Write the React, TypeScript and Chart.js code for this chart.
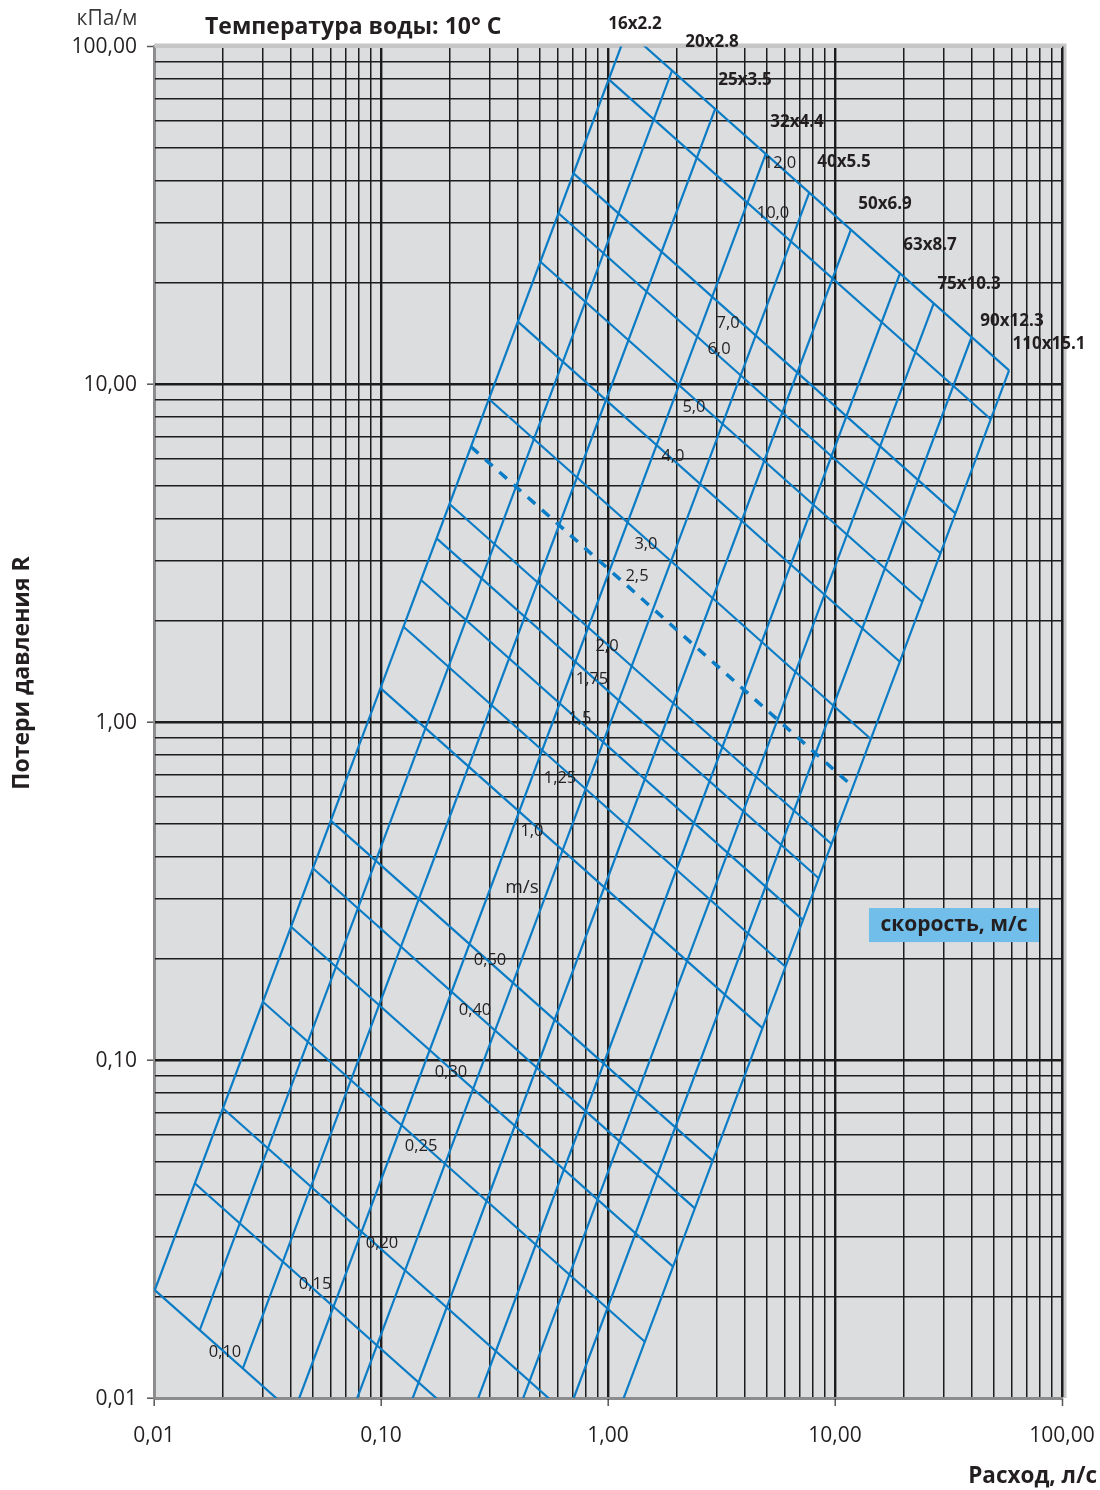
import React, { useEffect, useRef } from 'react';
import { Chart, registerables } from 'chart.js';

Chart.register(...registerables);

// ---- Pipe lines (flow Q, л/с ; pressure loss R, кПа/м) ----
const pipeNames = ['16x2.2', '20x2.8', '25x3.5', '32x4.4', '40x5.5', '50x6.9', '63x8.7', '75x10.3', '90x12.3', '110x15.1'];
const pipeStartQ = [0.01008, 0.0159, 0.02462, 0.04115, 0.06394, 0.09755, 0.1605, 0.226, 0.3319, 0.4853];
const pipeStartR = [0.02086, 0.01589, 0.01224, 0.009, 0.006915, 0.005373, 0.00399, 0.003251, 0.002585, 0.00206];
const pipeEndQ = [1.213, 1.915, 2.966, 4.955, 7.701, 11.75, 19.33, 27.22, 39.96, 58.47];
const pipeEndR = [111.1, 84.62, 65.17, 47.93, 36.83, 28.61, 21.25, 17.31, 13.76, 10.97];
const pipeLabelQ = [1.315, 2.871, 4.013, 6.801, 10.96, 16.61, 26.21, 38.94, 60.21, 87.62];
const pipeLabelR = [116.2, 102.8, 79.32, 59.59, 45.38, 34.08, 25.77, 19.76, 15.36, 13.13];

// ---- Velocity lines (м/с) ----
const velocityNames = ['0,10', '0,15', '0,20', '0,25', '0,30', '0,40', '0,50', '1,0', '1,25', '1,5', '1,75', '2,0', '2,5', '3,0', '4,0', '5,0', '6,0', '7,0', '10,0', '12,0'];
const velocityDashed = ['2,5'];
const velStartQ = [0.01008, 0.01512, 0.02011, 0.03017, 0.04014, 0.05012, 0.06008, 0.09949, 0.1256, 0.1501, 0.1758, 0.2003, 0.2491, 0.2986, 0.4009, 0.5036, 0.6053, 0.705, 1.008, 1.213];
const velStartR = [0.02086, 0.04318, 0.07198, 0.1487, 0.2479, 0.3692, 0.5106, 1.26, 1.913, 2.631, 3.495, 4.417, 6.524, 9.028, 15.29, 23.0, 32.0, 42.01, 79.7, 111.1];
const velEndQ = [0.4853, 0.7287, 0.969, 1.453, 1.934, 2.414, 2.894, 4.792, 6.051, 7.228, 8.472, 9.654, 12.0, 14.39, 19.31, 24.26, 29.17, 33.96, 48.56, 58.47];
const velEndR = [0.00206, 0.004261, 0.007101, 0.01467, 0.02447, 0.03641, 0.05039, 0.1243, 0.1888, 0.2597, 0.3449, 0.4357, 0.6435, 0.8909, 1.508, 2.269, 3.157, 4.143, 7.863, 10.97];
const velLabelQ = [0.02055, 0.05122, 0.101, 0.1501, 0.2034, 0.2595, 0.3021, 0.4625, 0.6145, 0.7526, 0.8502, 0.9899, 1.342, 1.47, 1.933, 2.392, 3.083, 3.379, 5.333, 5.725];
const velLabelR = [0.01368, 0.02175, 0.02875, 0.05567, 0.09216, 0.1406, 0.1977, 0.476, 0.683, 1.027, 1.34, 1.678, 2.704, 3.362, 6.124, 8.551, 12.69, 15.15, 32.05, 45.07];

const unitLabel = { text: 'm/s', q: 0.4179, r: 0.3228 };
const legendLabel = { text: 'скорость, м/с', q: 33.43, r: 0.2507 };

// ---- Axes ----
const decadeValues = [0.01, 0.1, 1, 10, 100];
const xTickLabels = ['0,01', '0,10', '1,00', '10,00', '100,00'];
const yTickLabels = ['0,01', '0,10', '1,00', '10,00', '100,00'];
const titleText = 'Температура воды: 10° С';
const yUnitText = 'кПа/м';
const yTitleText = 'Потери давления R';
const xTitleText = 'Расход, л/с';

const BLUE = '#0a7cc5';
const INK = '#231f20';
const GRIDC = '#1c1c1c';

function gridValues(): number[] {
  const out: number[] = [];
  for (let d = -2; d < 2; d++) {
    for (let m = 1; m < 10; m++) out.push(parseFloat((m * Math.pow(10, d)).toPrecision(6)));
  }
  out.push(100);
  return out;
}
function decadeIndex(v: number): number {
  return decadeValues.findIndex((d) => Math.abs(Math.log10(d) - Math.log10(v)) < 1e-6);
}

export default function App() {
  const ref = useRef<HTMLCanvasElement | null>(null);

  useEffect(() => {
    const canvas = ref.current;
    if (!canvas) return;

    const datasets: any[] = [];
    pipeNames.forEach((name, i) => {
      datasets.push({
        label: name,
        data: [
          { x: pipeStartQ[i], y: pipeStartR[i] },
          { x: pipeEndQ[i], y: pipeEndR[i] },
        ],
        showLine: true,
        borderColor: BLUE,
        borderWidth: 2.2,
        pointRadius: 0,
        fill: false,
      });
    });
    velocityNames.forEach((name, i) => {
      const dashed = velocityDashed.includes(name);
      datasets.push({
        label: name,
        data: [
          { x: velStartQ[i], y: velStartR[i] },
          { x: velEndQ[i], y: velEndR[i] },
        ],
        showLine: true,
        borderColor: BLUE,
        borderWidth: dashed ? 3.5 : 2.2,
        borderDash: dashed ? [10, 9] : [],
        pointRadius: 0,
        fill: false,
      });
    });

    const bgPlugin = {
      id: 'bg',
      beforeDraw(chart: any) {
        const { ctx, chartArea: a } = chart;
        ctx.save();
        ctx.fillStyle = '#dcdddf';
        ctx.fillRect(a.left, a.top, a.right - a.left, a.bottom - a.top);
        ctx.restore();
      },
    };

    const textPlugin = {
      id: 'texts',
      afterDraw(chart: any) {
        const { ctx, chartArea: a } = chart;
        const xs = chart.scales.x;
        const ys = chart.scales.y;
        ctx.save();
        // light frame top / right
        ctx.strokeStyle = '#c6c6c6';
        ctx.lineWidth = 3;
        ctx.beginPath();
        ctx.moveTo(a.left, a.top - 1);
        ctx.lineTo(a.right + 3, a.top - 1);
        ctx.lineTo(a.right + 3, a.bottom);
        ctx.stroke();

        // tick labels
        ctx.fillStyle = INK;
        ctx.font = '21px "Open Sans"';
        ctx.textBaseline = 'middle';
        ctx.textAlign = 'right';
        decadeValues.forEach((v, i) => {
          ctx.fillText(yTickLabels[i], a.left - 17, ys.getPixelForValue(v) + 1);
        });
        ctx.textAlign = 'center';
        decadeValues.forEach((v, i) => {
          ctx.fillText(xTickLabels[i], xs.getPixelForValue(v), a.bottom + 38);
        });

        ctx.font = 'bold 17px "Open Sans"';
        pipeNames.forEach((n, i) => {
          ctx.fillText(n, xs.getPixelForValue(pipeLabelQ[i]), ys.getPixelForValue(pipeLabelR[i]));
        });
        ctx.font = '16.5px "Open Sans"';
        velocityNames.forEach((n, i) => {
          ctx.fillText(n, xs.getPixelForValue(velLabelQ[i]), ys.getPixelForValue(velLabelR[i]));
        });
        ctx.font = '19px "Open Sans"';
        ctx.fillText(unitLabel.text, xs.getPixelForValue(unitLabel.q), ys.getPixelForValue(unitLabel.r));

        // legend box
        const bx = xs.getPixelForValue(legendLabel.q);
        const by = ys.getPixelForValue(legendLabel.r);
        ctx.fillStyle = '#70bee9';
        ctx.fillRect(bx - 85, by - 17, 170, 34);
        ctx.fillStyle = INK;
        ctx.font = 'bold 21px "Open Sans"';
        ctx.fillText(legendLabel.text, bx, by);

        // title
        ctx.textAlign = 'left';
        ctx.font = 'bold 23px "Open Sans"';
        ctx.fillText(titleText, a.left + 51, a.top - 19);

        // unit
        ctx.textAlign = 'center';
        ctx.font = '21px "Open Sans"';
        ctx.fillStyle = '#3a3a3a';
        ctx.fillText(yUnitText, a.left - 47, a.top - 27);

        // x title
        ctx.fillStyle = INK;
        ctx.textAlign = 'right';
        ctx.font = 'bold 22.5px "Open Sans"';
        ctx.fillText(xTitleText, a.right + 35, a.bottom + 79);

        // y title
        ctx.translate(22, (a.top + a.bottom) / 2 - 49);
        ctx.rotate(-Math.PI / 2);
        ctx.textAlign = 'center';
        ctx.font = 'bold 23px "Open Sans"';
        ctx.fillText(yTitleText, 0, 0);
        ctx.restore();
      },
    };

    const gridColor = (edgeGray: boolean) => (c: any) => {
      const v = c.tick ? c.tick.value : 0;
      if (edgeGray && Math.abs(v - 100) < 1e-9) return '#c6c6c6';
      return GRIDC;
    };
    const gridWidth = (c: any) => {
      const v = c.tick ? c.tick.value : 0;
      if (Math.abs(v - 100) < 1e-9) return 3;
      return decadeIndex(v) >= 0 ? 2.4 : 1.5;
    };
    const tickColor = (c: any) => (c.tick && decadeIndex(c.tick.value) >= 0 ? '#555555' : 'rgba(0,0,0,0)');

    const chart = new Chart(canvas, {
      type: 'scatter',
      data: { datasets },
      plugins: [bgPlugin, textPlugin],
      options: {
        animation: false,
        responsive: false,
        devicePixelRatio: 1,
        events: [],
        layout: { padding: { top: 46, right: 38, left: 0, bottom: 0 }, autoPadding: false },
        plugins: { legend: { display: false }, tooltip: { enabled: false }, title: { display: false } },
        scales: {
          x: {
            type: 'logarithmic',
            position: 'bottom',
            min: 0.01,
            max: 100,
            afterBuildTicks: (s: any) => {
              s.ticks = gridValues().map((v) => ({ value: v }));
            },
            afterFit: (s: any) => {
              s.height = 92;
              s.paddingLeft = 0;
              s.paddingRight = 0;
            },
            ticks: { display: false, autoSkip: false },
            grid: {
              color: gridColor(false),
              lineWidth: gridWidth,
              tickColor,
              tickLength: 8,
              tickWidth: 1.5,
            },
            border: { display: true, color: '#8c8c8c', width: 2 },
          },
          y: {
            type: 'logarithmic',
            position: 'left',
            min: 0.01,
            max: 100,
            afterBuildTicks: (s: any) => {
              s.ticks = gridValues().map((v) => ({ value: v }));
            },
            afterFit: (s: any) => {
              s.width = 154;
              s.paddingTop = 0;
              s.paddingBottom = 0;
            },
            ticks: { display: false, autoSkip: false },
            grid: {
              color: gridColor(true),
              lineWidth: gridWidth,
              tickColor,
              tickLength: 7,
              tickWidth: 1.5,
            },
            border: { display: true, color: '#8c8c8c', width: 2 },
          },
        },
      } as any,
    });

    return () => {
      chart.destroy();
    };
  }, []);

  return (
    <div style={{ position: 'absolute', left: 0, top: 0, width: 1100, height: 1490, background: '#ffffff' }}>
      <canvas ref={ref} width={1100} height={1490} style={{ display: 'block', width: 1100, height: 1490 }} />
    </div>
  );
}
